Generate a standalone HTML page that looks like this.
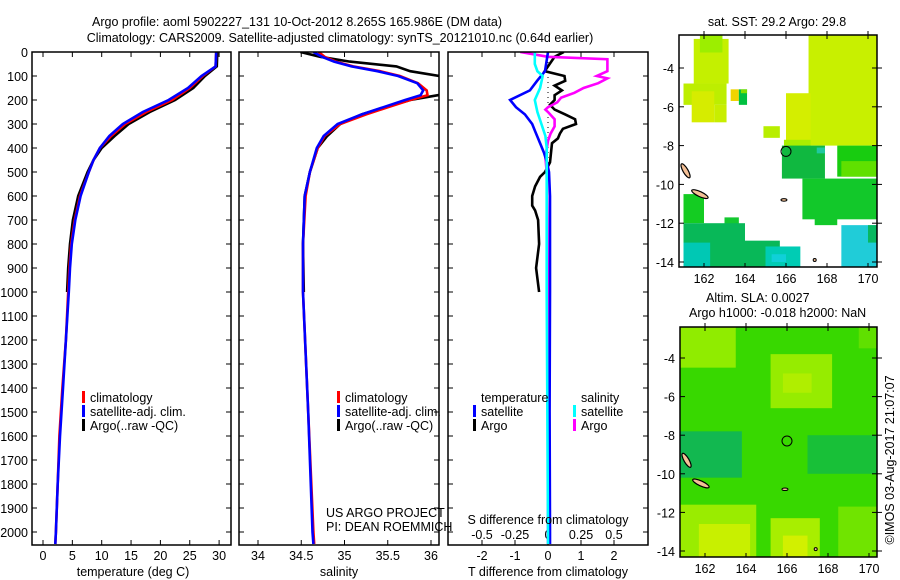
<!DOCTYPE html>
<html><head><meta charset="utf-8"><style>
body{margin:0;background:#fff}
svg{display:block;font-family:"Liberation Sans",sans-serif;font-size:12.5px}
</style></head><body>
<svg id="c" width="900" height="580" viewBox="0 0 900 580">
<text x="297" y="26" text-anchor="middle">Argo profile: aoml 5902227_131 10-Oct-2012 8.265S 165.986E (DM data)</text>
<text x="340" y="42" text-anchor="middle">Climatology: CARS2009. Satellite-adjusted climatology: synTS_20121010.nc (0.64d earlier)</text>
<text x="777" y="26" text-anchor="middle">sat. SST: 29.2 Argo: 29.8</text>
<text x="706" y="302">Altim. SLA: 0.0027</text>
<text x="689" y="317">Argo h1000: -0.018 h2000: NaN</text>
<text transform="translate(894,460) rotate(-90)" text-anchor="middle">©IMOS 03-Aug-2017 21:07:07</text>
<g id="g"></g>
</svg>
<script>
// ---- data ----
const depthT=[0,60,100,150,200,250,300,350,400,450,500,600,700,800,900,1000,1200,1400,1600,1800,2000,2050];
const argoT=[29.7,29.6,27.6,25.6,22.5,18.2,14.6,12.2,10.0,8.6,7.6,6.0,5.1,4.6,4.3,4.1];
const climT=[29.5,29.4,27.2,25.0,22.0,17.6,14.0,11.6,9.7,8.6,7.8,6.3,5.4,4.8,4.5,4.3,3.9,3.3,2.8,2.5,2.2,2.1];
const satT=[29.5,29.4,27.0,24.7,21.4,17.0,13.6,11.3,9.7,8.6,7.8,6.4,5.5,4.9,4.6,4.4,3.9,3.4,2.9,2.5,2.2,2.1];
const depthS=[0,20,40,60,80,100,130,160,180,200,230,260,300,350,400,500,600,800,1000,1500,2000,2050];
const argoS=[34.49,34.72,35.06,35.6,35.76,36.1,36.3,36.3,36.08,35.76,35.47,35.2,34.95,34.8,34.69,34.6,34.54,34.52,34.53];
const climS=[34.7,34.77,34.9,35.1,35.41,35.64,35.85,35.95,35.96,35.76,35.5,35.25,34.95,34.77,34.69,34.6,34.55,34.52,34.52,34.58,34.64,34.65];
const satS=[34.64,34.74,34.88,35.08,35.38,35.62,35.84,35.91,35.88,35.7,35.45,35.2,34.92,34.76,34.68,34.6,34.54,34.52,34.52,34.58,34.63,34.64];
const depthSatTd=[0,80,120,160,200,230,260,300,330,380,420,460,500,600,1000,1500,2000,2050];
const satTdiff=[0,-0.09,-0.33,-0.55,-1.15,-0.97,-0.7,-0.48,-0.39,-0.24,-0.12,-0.03,0.03,0.06,0.06,0.05,0.06,0.06];
const depthArgoTd=[0,20,60,80,100,120,140,160,180,200,220,240,260,280,300,320,340,360,380,420,460,500,520,560,600,640,660,700,800,900,1000];
const argoTdiff=[0.48,0.2,0,-0.1,0.5,0.52,0.2,0.42,0.2,0.2,0.06,0.2,0.52,0.82,0.85,0.45,0.36,0.3,0.12,0.09,0.06,-0.09,-0.24,-0.39,-0.48,-0.48,-0.39,-0.3,-0.27,-0.36,-0.27];
const depthArgoSd=[0,20,30,80,100,110,130,150,170,190,210,230,240,250,280,310,340,370,440,500,1000,2000,2050];
const argoSdiff=[-0.21,0,0.45,0.45,0.37,0.45,0.38,0.27,0.2,0.1,0.07,0,-0.02,0,0.05,0.05,0.02,0,-0.02,-0.01,0,0,0];
const depthSatSd=[0,50,80,100,150,200,250,300,350,400,500,1000,2000,2050];
const satSdiff=[-0.1,-0.1,-0.08,-0.04,-0.06,-0.1,-0.08,-0.05,-0.02,-0.01,-0.01,-0.01,0,0];
const depthTicks=[0,100,200,300,400,500,600,700,800,900,1000,1100,1200,1300,1400,1500,1600,1700,1800,1900,2000];
const tempTicks=[0,5,10,15,20,25,30];
const salTicks=[34,34.5,35,35.5,36];
const salTickLabels=["34","34.5","35","35.5","36"];
const tdTicks=[-2,-1,0,1,2];
const sdTicks=[-0.5,-0.25,0,0.25,0.5];
const sdTickLabels=["-0.5","-0.25","0","0.25","0.5"];
const latTicks=[-4,-6,-8,-10,-12,-14];
const lonTicks=[162,164,166,168,170];
// ---- scales ----
const yD=d=>52+d*0.24;
const xT=t=>43+t*5.87;
const xS=s=>258+(s-34)*86.5;
const xTd=t=>548+t*33;
const xSd=s=>548+s*132;
const NS="http://www.w3.org/2000/svg";
const G=document.getElementById('g');
function el(tag,at,parent){const e=document.createElementNS(NS,tag);for(const k in at)e.setAttribute(k,at[k]);(parent||G).appendChild(e);return e;}
function txt(x,y,s,anchor){const e=el('text',{x:x,y:y,'text-anchor':anchor||'start'});e.textContent=s;return e;}
const defs=el('defs',{});
[['c1',32,52,199,493],['c2',239,52,200,493],['c3',448,52,200,493],['m1',679,35,198,232],['m2',680,327,197,230]].forEach(a=>{
 const cp=el('clipPath',{id:a[0]},defs);el('rect',{x:a[1],y:a[2],width:a[3],height:a[4]},cp);});
function prof(depths,vals,xf,color,clip,name){
 const pts=vals.map((v,i)=>xf(v).toFixed(1)+','+yD(depths[i]).toFixed(1)).join(' ');
 const p=el('polyline',{points:pts,fill:'none',stroke:color,'stroke-width':2.6,'stroke-linejoin':'miter','clip-path':'url(#'+clip+')'});
 
 
}
function frame(x,y,w,h,name){const r=el('rect',{x:x,y:y,width:w,height:h,fill:'none',stroke:'#000','stroke-width':1.5});
 
 }
// panel 1
depthTicks.forEach(d=>{el('line',{x1:32,x2:37,y1:yD(d),y2:yD(d),stroke:'#000'});el('line',{x1:226,x2:231,y1:yD(d),y2:yD(d),stroke:'#000'});
 const t=txt(28,yD(d)+5,String(d),'end');
 
 });
tempTicks.forEach(v=>{el('line',{x1:xT(v),x2:xT(v),y1:52,y2:57,stroke:'#000'});el('line',{x1:xT(v),x2:xT(v),y1:540,y2:545,stroke:'#000'});
 const t=txt(xT(v),560,String(v),'middle');
 
 });
prof(depthT.slice(0,argoT.length),argoT,xT,'#000','c1','argo-temperature-line');
prof(depthT,climT,xT,'#f00','c1','climatology-temperature-line');
prof(depthT,satT,xT,'#00f','c1','satellite-temperature-line');
frame(32,52,199,493,'temperature-panel');
const tl1=txt(133,576,'temperature (deg C)','middle');


// panel 2
depthTicks.forEach(d=>{el('line',{x1:239,x2:244,y1:yD(d),y2:yD(d),stroke:'#000'});el('line',{x1:434,x2:439,y1:yD(d),y2:yD(d),stroke:'#000'});});
salTicks.forEach((v,i)=>{el('line',{x1:xS(v),x2:xS(v),y1:52,y2:57,stroke:'#000'});el('line',{x1:xS(v),x2:xS(v),y1:540,y2:545,stroke:'#000'});
 const t=txt(xS(v),560,salTickLabels[i],'middle');
 
 });
prof(depthS.slice(0,argoS.length),argoS,xS,'#000','c2','argo-salinity-line');
prof(depthS,climS,xS,'#f00','c2','climatology-salinity-line');
prof(depthS,satS,xS,'#00f','c2','satellite-salinity-line');
frame(239,52,200,493,'salinity-panel');
const tl2=txt(339,576,'salinity','middle');


// panel 3
depthTicks.forEach(d=>{el('line',{x1:448,x2:453,y1:yD(d),y2:yD(d),stroke:'#000'});el('line',{x1:643,x2:648,y1:yD(d),y2:yD(d),stroke:'#000'});});
tdTicks.forEach(v=>{el('line',{x1:xTd(v),x2:xTd(v),y1:52,y2:57,stroke:'#000'});el('line',{x1:xTd(v),x2:xTd(v),y1:540,y2:545,stroke:'#000'});
 const t=txt(xTd(v),560,String(v),'middle');
 
 });
sdTicks.forEach((v,i)=>{const t=txt(xSd(v),539,sdTickLabels[i],'middle');
 
 });
el('line',{x1:548,x2:548,y1:52,y2:yD(460),stroke:'#000','stroke-dasharray':'1,4'});
prof(depthArgoTd,argoTdiff,xTd,'#000','c3','argo-t-diff-line');
prof(depthArgoSd,argoSdiff,xSd,'#f0f','c3','argo-s-diff-line');
prof(depthSatTd,satTdiff,xTd,'#00f','c3','satellite-t-diff-line');
prof(depthSatSd,satSdiff,xSd,'#0ff','c3','satellite-s-diff-line');
frame(448,52,200,493,'difference-panel');
const s3=txt(548,524,'S difference from climatology','middle');


const t3=txt(548,576,'T difference from climatology','middle');


// legends
function leg(x,y,color,label,name){el('rect',{x:x,y:y-11,width:3,height:12,fill:color});const t=txt(x+8,y,label);
 
 }
leg(82,402,'#f00','climatology','legend-climatology');
leg(82,416,'#00f','satellite-adj. clim.','legend-satellite-adj');
leg(82,430,'#000','Argo(..raw -QC)','legend-argo');
leg(337,402,'#f00','climatology','legend-climatology-2');
leg(337,416,'#00f','satellite-adj. clim.','legend-satellite-adj-2');
leg(337,430,'#000','Argo(..raw -QC)','legend-argo-2');
const lt=txt(481,402,'temperature');
const ls=txt(581,402,'salinity');
leg(473,416,'#00f','satellite','legend-t-satellite');
leg(473,430,'#000','Argo','legend-t-argo');
leg(573,416,'#0ff','satellite','legend-s-satellite');
leg(573,430,'#f0f','Argo','legend-s-argo');
const u1=txt(326,517,'US ARGO PROJECT');
const u2=txt(326,531,'PI: DEAN ROEMMICH');
// maps
function mapAxes(x0,y0,w,h,lonF,latF,name){
 latTicks.forEach(v=>{el('line',{x1:x0,x2:x0+5,y1:latF(v),y2:latF(v),stroke:'#000'});el('line',{x1:x0+w-5,x2:x0+w+5,y1:latF(v),y2:latF(v),stroke:'#000'});
  const t=txt(x0-5,latF(v)+5,String(v),'end');});
 lonTicks.forEach(v=>{el('line',{x1:lonF(v),x2:lonF(v),y1:y0-4,y2:y0+4,stroke:'#000'});el('line',{x1:lonF(v),x2:lonF(v),y1:y0+h-4,y2:y0+h,stroke:'#000'});
  const t=txt(lonF(v),y0+h+16,String(v),'middle');});
 frame(x0,y0,w,h,name);
}
const lon1=l=>704+(l-162)*20.5, lat1=a=>68+(-4-a)*19.4;
const lon2=l=>705+(l-162)*20.5, lat2=a=>358+(-4-a)*19.3;
function patch(lonF,latF,l0,l1,a0,a1,c,clip){el('rect',{x:lonF(l0),y:latF(a0),width:lonF(l1)-lonF(l0),height:latF(a1)-latF(a0),fill:c,'clip-path':'url(#'+clip+')'});}
const sstPatches=[[161.5,163.2,-2.5,-4.8,'#c4f000'],[161.8,162.9,-2.2,-3.2,'#9cee00'],[161,163.1,-4.8,-5.9,'#bdee00'],[161.4,162.5,-5.2,-6.8,'#d6ec00'],[162.5,163.1,-5.9,-6.8,'#c8ee00'],[163.3,163.7,-5.1,-5.7,'#f0d400'],[163.7,164.1,-5.1,-5.9,'#00c040'],[163.8,164.1,-5.1,-5.3,'#7ee000'],[164.9,165.7,-7,-7.6,'#b8ee00'],[167.1,171.1,-2.2,-8,'#c8f000'],[166,167.2,-5.3,-8,'#d4ee00'],[165.9,167.2,-7.7,-8.1,'#a8ee00'],[165.8,167.9,-8,-9.7,'#10b840'],[167.5,167.9,-8.1,-8.4,'#20c8a0'],[168.5,171.1,-8,-9.6,'#18cc10'],[168.7,171,-8.8,-9.6,'#60e000'],[166.8,171.1,-9.7,-11.8,'#12c82a'],[167.4,168.5,-11.7,-12.1,'#12c82a'],[161,162,-10.5,-12,'#14cc22'],[163,163.7,-11.7,-12.3,'#14c830'],[161,164,-12,-14.3,'#08b858'],[164,165.7,-12.9,-14.3,'#08b858'],[161,162.3,-13,-14.3,'#00c8b4'],[165,166.7,-13.2,-14.3,'#00ccb4'],[165.3,166,-13.6,-14,'#10d0d8'],[168.7,171.1,-12.1,-14.3,'#20ccd8'],[170,171.1,-12.1,-13,'#08b860']];
el('rect',{x:679,y:35,width:198,height:232,fill:'#fff'});
sstPatches.forEach(p=>patch(lon1,lat1,p[0],p[1],p[2],p[3],p[4],'m1'));
const slaPatches=[[160.8,171.2,-2.3,-14.3,'#38d800'],[160.8,163.5,-2.3,-4.5,'#90ec00'],[165.2,168.2,-3.8,-6.6,'#96ec00'],[165.8,167.2,-4.8,-5.8,'#b0ee00'],[160.8,163.8,-7.8,-10.2,'#12b850'],[167,171.2,-8,-10,'#18c038'],[160.8,164.5,-11.6,-14.3,'#9aec00'],[161.7,164.2,-12.6,-14.3,'#c8f000'],[165.2,167.6,-12.3,-14.3,'#a8ee00'],[165.8,167,-13.2,-14.3,'#d2f000'],[168.5,171.2,-11.7,-14.3,'#70e400'],[169.5,171.2,-2.3,-3.5,'#60e000']];
slaPatches.forEach(p=>patch(lon2,lat2,p[0],p[1],p[2],p[3],p[4],'m2'));
[[lon1,lat1,'m1'],[lon2,lat2,'m2']].forEach(m=>{
 const [lf,af,cl]=m;
 const g=el('g',{'clip-path':'url(#'+cl+')'});
 el('ellipse',{cx:lf(161.1),cy:af(-9.3),rx:2.5,ry:8,fill:'#f4c096',stroke:'#000','stroke-width':1.2,transform:'rotate(-30 '+lf(161.1)+' '+af(-9.3)+')'},g);
 el('ellipse',{cx:lf(161.8),cy:af(-10.5),rx:9,ry:2.5,fill:'#f4c096',stroke:'#000','stroke-width':1.2,transform:'rotate(25 '+lf(161.8)+' '+af(-10.5)+')'},g);
 el('ellipse',{cx:lf(165.9),cy:af(-10.8),rx:3,ry:1.3,fill:'#f4c096',stroke:'#000'},g);
 el('ellipse',{cx:lf(167.4),cy:af(-13.9),rx:1.5,ry:1.5,fill:'#f4c096',stroke:'#000'},g);
 el('circle',{cx:lf(166),cy:af(-8.3),r:5,fill:'none',stroke:'#000','stroke-width':1},g);
});
mapAxes(679,35,198,232,lon1,lat1,'sst-map');
mapAxes(680,327,197,230,lon2,lat2,'sla-map');
</script>
</body></html>
